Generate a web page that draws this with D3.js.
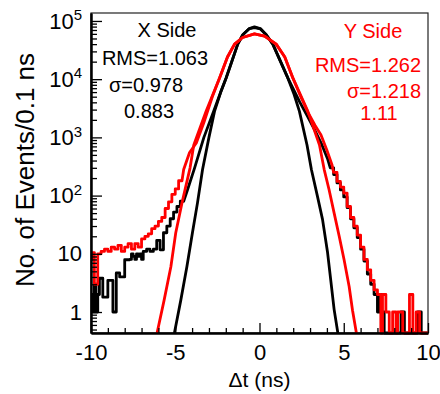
<!DOCTYPE html>
<html>
<head>
<meta charset="utf-8">
<script src="https://cdn.jsdelivr.net/npm/d3@7"></script>
<style>
  body { margin: 0; background: #fff; }
  svg { display: block; }
  text { font-family: "Liberation Sans", Arial, Helvetica, sans-serif; }
</style>
</head>
<body>
<svg id="chart" width="440" height="394"></svg>
<script>
// ---- axis ticks ----
const xMajorTicks = [-10, -5, 0, 5, 10];
const xMinorTicks = [-9, -8, -7, -6, -4, -3, -2, -1, 1, 2, 3, 4, 6, 7, 8, 9];
const yDecadeExponents = [0, 1, 2, 3, 4, 5];

// ---- X side (black): measured time difference, 0.1 ns bins ----
// low tail: bin edges and counts
const blackTailLowEdges = [-10, -9.9, -9.8, -9.7, -9.6, -9.5, -9.3, -9.0, -8.7, -8.5, -8.3, -8.0, -7.7,
  -7.6, -7.5, -7.4, -7.3, -7.2, -7.1, -7.0, -6.9, -6.7, -6.5, -6.3, -6.1, -5.9, -5.7, -5.5, -5.3,
  -5.1, -4.9, -4.7, -4.5];
const blackTailLowCounts = [2, 1, 3, 1, 2, 3.8, 1.8, 3.5, 1, 4.7, 4, 7.9,
  8, 10, 9, 8, 10, 9, 10, 8, 11, 12, 11, 12, 17, 11.7, 23, 30, 40, 52, 65, 80];
// central peak
const blackPeakX = [-4.27, -3.85, -3.3, -2.72, -2.3, -1.98, -1.29, -0.99, -0.6, -0.3, 0.05, 0.4, 0.79,
  1.68, 2.4, 2.85, 3.3, 3.7, 4.05];
const blackPeakN = [126, 300, 1000, 2800, 6000, 10500, 40000, 58000, 74000, 77000, 73000, 58000, 40000,
  10500, 4000, 2300, 1300, 750, 420];
// high tail
const blackTailHighEdges = [4.2, 4.4, 4.6, 4.8, 5.0, 5.2, 5.4, 5.6, 5.8, 6.0, 6.2, 6.4, 6.6, 6.8, 7.0,
  7.1, 7.2, 7.3, 7.4, 7.5, 7.6, 7.7, 7.8, 7.9, 8.0, 8.1, 8.2, 8.3, 8.4, 8.5, 8.6, 8.7, 8.8, 8.9,
  9.0, 9.1, 9.2, 9.3, 9.4, 9.5, 9.6, 9.7, 9.8, 9.9, 10.0];
const blackTailHighCounts = [300, 230, 165, 125, 95, 62, 40, 28, 19, 12, 7.5, 4.5, 3, 2,
  1, 2, 1, 1, 0, 0, 0, 0, 0, 0, 0, 0, 0, 0, 1, 1, 0, 0, 0, 0,
  0, 0, 0, 0, 1, 1, 0, 0, 0, 0];
// narrow X-side distribution
const blackNarrowX = [-5.05, -4.67, -4.31, -3.98, -3.68, -3.38, -3.0, -2.67, -2.3, -1.98, -1.29, -0.99,
  -0.6, -0.3, 0.05, 0.4, 0.79, 1.68, 2.05, 2.37, 2.82, 3.08, 3.44, 3.74, 4.04, 4.23, 4.43, 4.65];
const blackNarrowN = [0.4, 1.6, 6, 23, 75, 280, 1000, 2800, 6000, 10500, 40000, 58000,
  74000, 79000, 74000, 58000, 40000, 10500, 5500, 2800, 740, 280, 97, 39, 10.5, 3.5, 1.1, 0.4];

// ---- Y side (red) ----
const redTailLowEdges = [-10, -9.9, -9.8, -9.6, -9.4, -9.2, -9.0, -8.8, -8.6, -8.4, -8.2, -8.0, -7.8,
  -7.6, -7.4, -7.2, -7.0, -6.8, -6.6, -6.4, -6.2, -6.0, -5.8, -5.6, -5.4, -5.2, -5.0, -4.8, -4.6];
const redTailLowCounts = [8, 10.5, 3, 10, 11, 12, 11, 13, 12, 14, 11, 13, 15, 12, 15, 13, 18, 20, 22,
  27, 30, 36, 42, 60, 78, 105, 130, 180];
const redPeakX = [-4.5, -4.15, -3.75, -3.3, -2.8, -2.37, -1.9, -1.48, -1.0, -0.3, 0.3, 0.99, 1.5,
  1.98, 2.45, 2.9, 3.3, 3.65, 4.0, 4.3];
const redPeakN = [280, 550, 800, 1800, 5000, 10500, 24000, 40000, 52000, 60000, 55000, 40000, 24000,
  10500, 5000, 2600, 1600, 1100, 600, 340];
const redTailHighEdges = [4.4, 4.6, 4.8, 5.0, 5.2, 5.4, 5.6, 5.8, 6.0, 6.2, 6.4, 6.6, 6.8, 7.0,
  7.1, 7.2, 7.3, 7.4, 7.5, 7.6, 7.7, 7.8, 7.9, 8.0, 8.1, 8.2, 8.3, 8.4, 8.5, 8.6, 8.7, 8.8, 8.9,
  9.0, 9.1, 9.2, 9.3, 9.4, 9.5, 9.6, 9.7, 9.8, 9.9, 10.0];
const redTailHighCounts = [250, 175, 140, 110, 65, 42, 30, 21, 13, 8, 5.3, 3.5, 2.4,
  2, 2, 0, 2, 2, 1, 1, 0, 0, 1, 1, 0, 1, 1, 1, 0, 0, 0, 0, 2,
  2, 0, 0, 1, 1, 0, 0, 0, 0, 0];
const redNarrowX = [-6.08, -5.66, -5.26, -4.97, -4.6, -4.12, -3.9, -3.17, -2.37, -1.9, -1.48, -1.0,
  -0.3, 0.3, 0.99, 1.5, 1.98, 2.87, 3.56, 3.84, 4.13, 4.43, 4.73, 5.02, 5.32, 5.52, 5.75];
const redNarrowN = [0.4, 1.6, 6, 23, 75, 300, 740, 2800, 10500, 24000, 40000, 52000,
  60000, 55000, 40000, 24000, 10500, 2800, 740, 280, 126, 50, 20, 7.9, 2.75, 1.07, 0.4];

// ---- annotations ----
const xSideText = ["X Side", "RMS=1.063", "\u03c3=0.978", "0.883"];
const ySideText = ["Y Side", "RMS=1.262", "\u03c3=1.218", "1.11"];

// ---- layout ----
const plot = { left: 91, right: 428, top: 13, bottom: 333 };
const yMin = 0.436, yMax = 1.37e5;

const svg = d3.select("#chart");
svg.append("rect").attr("width", 440).attr("height", 394).attr("fill", "#fff");

const x = d3.scaleLinear().domain([-10, 10]).range([plot.left, plot.right]);
const y = d3.scaleLog().domain([yMin, yMax]).range([plot.bottom, plot.top]).clamp(true);

// frame
svg.append("rect")
  .attr("x", plot.left).attr("y", plot.top)
  .attr("width", plot.right - plot.left).attr("height", plot.bottom - plot.top)
  .attr("fill", "none").attr("stroke", "#222").attr("stroke-width", 1.2);

// histogram helpers
function binSteps(edges, counts) {
  const pts = [];
  counts.forEach((c, i) => { pts.push([edges[i], c]); pts.push([edges[i + 1], c]); });
  return pts;
}
const zip = (xs, ns) => xs.map((v, i) => [v, ns[i]]);

const line = d3.line()
  .x(d => x(d[0]))
  .y(d => y(Math.max(d[1], yMin)));

svg.append("clipPath").attr("id", "plotClip")
  .append("rect").attr("x", plot.left).attr("y", plot.top - 2)
  .attr("width", plot.right - plot.left).attr("height", plot.bottom - plot.top + 4);

const g = svg.append("g").attr("clip-path", "url(#plotClip)");

const series = [
  { pts: binSteps(blackTailLowEdges, blackTailLowCounts)
      .concat(zip(blackPeakX, blackPeakN))
      .concat(binSteps(blackTailHighEdges, blackTailHighCounts)), color: "#000" },
  { pts: zip(blackNarrowX, blackNarrowN), color: "#000" },
  { pts: binSteps(redTailLowEdges, redTailLowCounts)
      .concat(zip(redPeakX, redPeakN))
      .concat(binSteps(redTailHighEdges, redTailHighCounts)), color: "#ff0000" },
  { pts: zip(redNarrowX, redNarrowN), color: "#ff0000" }
];

g.selectAll("path.hist").data(series).join("path")
  .attr("class", "hist")
  .attr("d", d => line(d.pts))
  .attr("fill", "none")
  .attr("stroke", d => d.color)
  .attr("stroke-width", 2.8)
  .attr("stroke-linejoin", "round");

// y axis: decades with labels, minor ticks without
const yMajor = yDecadeExponents.map(e => Math.pow(10, e));
const yMinor = [];
for (let e = -1; e <= 5; e++) {
  for (let m = 2; m <= 9; m++) {
    const v = m * Math.pow(10, e);
    if (v >= yMin && v <= yMax) yMinor.push(v);
  }
}

svg.append("g").attr("transform", `translate(${plot.left},0)`)
  .call(d3.axisLeft(y).tickValues(yMinor).tickSize(-6).tickSizeOuter(0).tickFormat(""));
const yAxisMajor = svg.append("g").attr("transform", `translate(${plot.left},0)`)
  .call(d3.axisLeft(y).tickValues(yMajor).tickSize(-11).tickSizeOuter(0).tickPadding(9)
    .tickFormat(""));

yAxisMajor.selectAll(".tick text").each(function (d) {
  const e = Math.round(Math.log10(d));
  const t = d3.select(this).attr("font-size", 22).attr("fill", "#000");
  if (e === 0) { t.text("1"); return; }
  t.append("tspan").text("10");
  if (e > 1) {
    t.append("tspan").attr("font-size", 15).attr("dy", "-0.55em").text(String(e));
  }
});

// x axis
svg.append("g").attr("transform", `translate(0,${plot.bottom})`)
  .call(d3.axisBottom(x).tickValues(xMinorTicks).tickSize(-5).tickSizeOuter(0).tickFormat(""));
const xAxis = svg.append("g").attr("transform", `translate(0,${plot.bottom})`)
  .call(d3.axisBottom(x).tickValues(xMajorTicks).tickSize(-10).tickSizeOuter(0).tickPadding(11)
    .tickFormat(d => String(d)));
xAxis.selectAll(".tick text").attr("font-size", 22).attr("fill", "#000");

svg.selectAll(".domain").attr("stroke", "#000").attr("stroke-width", 2);
svg.selectAll(".tick line").attr("stroke", "#000").attr("stroke-width", 1.3);

// axis titles
svg.append("text")
  .attr("transform", `translate(34,170) rotate(-90)`)
  .attr("text-anchor", "middle").attr("font-size", 26).attr("fill", "#000")
  .text("No. of Events/0.1 ns");
svg.append("text")
  .attr("x", (plot.left + plot.right) / 2).attr("y", 387)
  .attr("text-anchor", "middle").attr("font-size", 21).attr("fill", "#000")
  .text("\u0394t (ns)");

// statistics boxes
const xSidePos = [[167, 37], [155, 65], [146, 92], [149, 118]];
const ySidePos = [[373, 38], [368, 72], [384, 98], [379, 120]];
svg.selectAll("text.xs").data(xSideText).join("text").attr("class", "xs")
  .attr("x", (d, i) => xSidePos[i][0]).attr("y", (d, i) => xSidePos[i][1])
  .attr("text-anchor", "middle").attr("font-size", 20).attr("fill", "#000")
  .text(d => d);
svg.selectAll("text.ys").data(ySideText).join("text").attr("class", "ys")
  .attr("x", (d, i) => ySidePos[i][0]).attr("y", (d, i) => ySidePos[i][1])
  .attr("text-anchor", "middle").attr("font-size", 20).attr("fill", "#ff0000")
  .text(d => d);
</script>
</body>
</html>
